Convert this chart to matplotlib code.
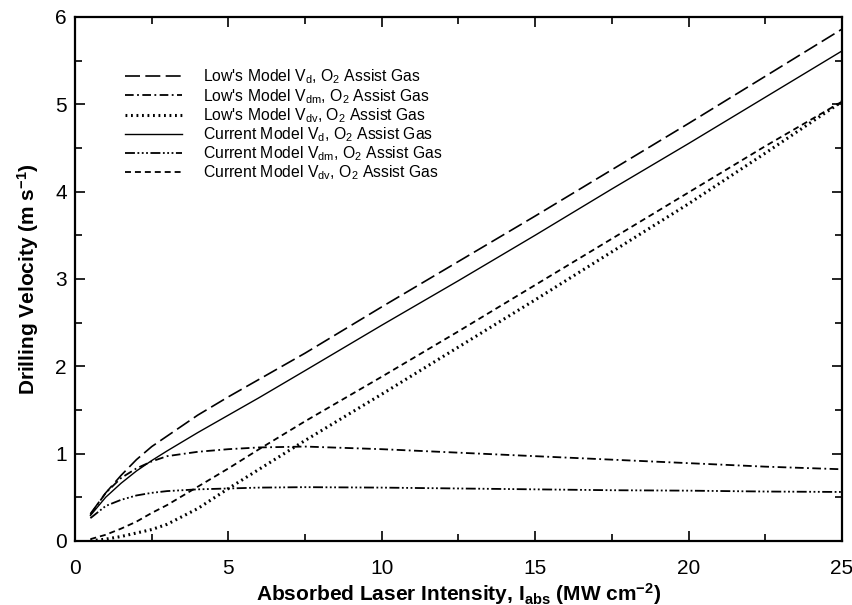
import matplotlib
matplotlib.use("Agg")
import matplotlib.pyplot as plt
from matplotlib.ticker import MultipleLocator

plt.rcParams['font.family'] = ['Liberation Sans', 'DejaVu Sans']
plt.rcParams['mathtext.default'] = 'regular'
plt.rcParams['axes.unicode_minus'] = False

# Absorbed laser intensity (MW cm^-2)
intensity = [0.5, 1, 1.5, 2, 2.5, 3, 4, 5, 6, 7.5, 10, 12.5, 15, 17.5, 20, 22.5, 25]

# Drilling velocities (m s^-1)
low_vd = [0.31, 0.55, 0.75, 0.93, 1.08, 1.20, 1.44, 1.65, 1.85, 2.15, 2.68, 3.20, 3.72, 4.25, 4.78, 5.32, 5.86]
low_vdm = [0.30, 0.55, 0.72, 0.83, 0.91, 0.97, 1.02, 1.05, 1.07, 1.08, 1.05, 1.01, 0.97, 0.93, 0.89, 0.85, 0.82]
low_vdv = [0.00, 0.02, 0.05, 0.09, 0.13, 0.19, 0.37, 0.60, 0.82, 1.15, 1.68, 2.22, 2.76, 3.31, 3.86, 4.44, 5.03]
cur_vd = [0.29, 0.50, 0.66, 0.80, 0.92, 1.03, 1.24, 1.44, 1.64, 1.95, 2.47, 2.98, 3.50, 4.03, 4.55, 5.08, 5.61]
cur_vdm = [0.26, 0.40, 0.47, 0.52, 0.55, 0.57, 0.59, 0.60, 0.61, 0.615, 0.61, 0.60, 0.59, 0.58, 0.575, 0.565, 0.56]
cur_vdv = [0.02, 0.07, 0.14, 0.22, 0.32, 0.41, 0.62, 0.83, 1.05, 1.37, 1.88, 2.40, 2.93, 3.46, 3.99, 4.52, 5.03]

labels = [
    r"Low's Model V$_{d}$, O$_{2}$ Assist Gas",
    r"Low's Model V$_{dm}$, O$_{2}$ Assist Gas",
    r"Low's Model V$_{dv}$, O$_{2}$ Assist Gas",
    r"Current Model V$_{d}$, O$_{2}$ Assist Gas",
    r"Current Model V$_{dm}$, O$_{2}$ Assist Gas",
    r"Current Model V$_{dv}$, O$_{2}$ Assist Gas",
]

fig = plt.figure(figsize=(8.53, 6.05), dpi=100)
ax = fig.add_axes([0.088, 0.106, 0.899, 0.866])

ax.plot(intensity, low_vd, color='black', lw=1.2, linestyle=(0, (9, 3.2)), label=labels[0])
ax.plot(intensity, low_vdm, color='black', lw=1.3, linestyle=(0, (4.8, 1.9, 1.0, 1.9)), label=labels[1])
ax.plot(intensity, low_vdv, color='black', lw=2.2, linestyle=(0, (0.6, 1.2)), label=labels[2])
ax.plot(intensity, cur_vd, color='black', lw=1.0, linestyle='-', label=labels[3])
ax.plot(intensity, cur_vdm, color='black', lw=1.3,
        linestyle=(0, (5.5, 1.4, 1.0, 1.4, 1.0, 1.4, 1.0, 1.4)), label=labels[4])
ax.plot(intensity, cur_vdv, color='black', lw=1.3, linestyle=(0, (3.3, 2.2)), label=labels[5])

ax.set_xlim(0, 25)
ax.set_ylim(0, 6)
ax.xaxis.set_major_locator(MultipleLocator(5))
ax.xaxis.set_minor_locator(MultipleLocator(2.5))
ax.yaxis.set_major_locator(MultipleLocator(1))
ax.yaxis.set_minor_locator(MultipleLocator(0.5))

ax.tick_params(which='both', direction='in', top=True, right=True, width=1.2)
ax.tick_params(which='major', length=7.5, labelsize=15)
ax.tick_params(which='minor', length=5)
ax.tick_params(axis='x', which='major', pad=13)
ax.tick_params(axis='y', which='major', pad=6)
for sp in ax.spines.values():
    sp.set_linewidth(1.6)

ax.set_xlabel(r"Absorbed Laser Intensity, I$_{abs}$ (MW cm$^{-2}$)",
              fontsize=15, fontweight='bold', labelpad=2)
ax.set_ylabel(r"Drilling Velocity (m s$^{-1}$)",
              fontsize=15, fontweight='bold', labelpad=10)

ax.legend(loc='upper left', bbox_to_anchor=(0.057, 0.915), frameon=False,
          fontsize=11.3, handlelength=3.6, handletextpad=1.35, labelspacing=0.03,
          borderaxespad=0)

fig.savefig("out.png", dpi=100)
